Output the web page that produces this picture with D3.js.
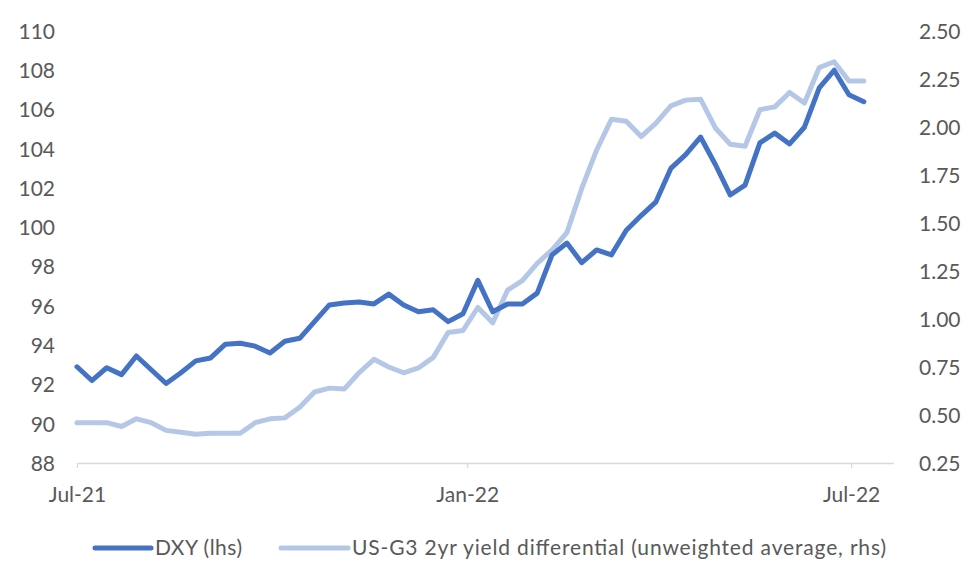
<!DOCTYPE html>
<html>
<head>
<meta charset="utf-8">
<script src="https://cdn.jsdelivr.net/npm/d3@7/dist/d3.min.js"></script>
<style>
  html, body { margin: 0; padding: 0; background: #fff; }
  svg { display: block; }
  text { font-family: Lato, "Open Sans", sans-serif; fill: #595959; }
</style>
</head>
<body>
<svg id="chart" width="980" height="588"></svg>
<script>
// ---- data ----
const dates = [
  "2021-07-01","2021-07-08","2021-07-15","2021-07-22","2021-07-29",
  "2021-08-05","2021-08-12","2021-08-19","2021-08-26",
  "2021-09-02","2021-09-09","2021-09-16","2021-09-23","2021-09-30",
  "2021-10-07","2021-10-14","2021-10-21","2021-10-28",
  "2021-11-04","2021-11-11","2021-11-18","2021-11-25",
  "2021-12-02","2021-12-09","2021-12-16","2021-12-23","2021-12-30",
  "2022-01-06","2022-01-13","2022-01-20","2022-01-27",
  "2022-02-03","2022-02-10","2022-02-17","2022-02-24",
  "2022-03-03","2022-03-10","2022-03-17","2022-03-24","2022-03-31",
  "2022-04-07","2022-04-14","2022-04-21","2022-04-28",
  "2022-05-05","2022-05-12","2022-05-19","2022-05-26",
  "2022-06-02","2022-06-09","2022-06-16","2022-06-23","2022-06-30",
  "2022-07-07"
];
const dxy = [
  92.9, 92.2, 92.85, 92.5, 93.45, 92.75, 92.05, 92.6, 93.2, 93.35,
  94.05, 94.1, 93.95, 93.6, 94.2, 94.35, 95.2, 96.05, 96.15, 96.2,
  96.1, 96.6, 96.05, 95.7, 95.8, 95.2, 95.6, 97.3, 95.7, 96.1,
  96.1, 96.65, 98.6, 99.2, 98.2, 98.85, 98.6, 99.85, 100.6, 101.3,
  103.0, 103.7, 104.6, 103.2, 101.65, 102.15, 104.3, 104.8, 104.25, 105.1,
  107.1, 108.0, 106.75, 106.4
];
const yieldDiff = [
  0.46, 0.46, 0.46, 0.44, 0.48, 0.46, 0.42, 0.41, 0.40, 0.405,
  0.405, 0.405, 0.46, 0.48, 0.485, 0.54, 0.62, 0.64, 0.635, 0.72,
  0.79, 0.75, 0.72, 0.745, 0.80, 0.93, 0.94, 1.06, 0.98, 1.15,
  1.20, 1.29, 1.36, 1.45, 1.68, 1.88, 2.04, 2.03, 1.95, 2.02,
  2.11, 2.14, 2.145, 1.995, 1.91, 1.90, 2.09, 2.105, 2.18, 2.125,
  2.31, 2.34, 2.24, 2.24
];
const leftTicks = [88, 90, 92, 94, 96, 98, 100, 102, 104, 106, 108, 110];
const rightTicks = [0.25, 0.5, 0.75, 1.0, 1.25, 1.5, 1.75, 2.0, 2.25, 2.5];
const xTickDates = ["2021-07-01", "2022-01-01", "2022-07-01"];
const seriesNames = ["DXY (lhs)", "US-G3 2yr yield differential (unweighted average, rhs)"];
const seriesColors = ["#4472C4", "#B4C7E7"];

// ---- chart ----
const parse = d3.timeParse("%Y-%m-%d");
const svg = d3.select("#chart");
svg.append("rect").attr("width", 980).attr("height", 588).attr("fill", "#fff");

const x = d3.scaleTime()
  .domain([parse("2021-07-01"), parse("2022-07-21")])
  .range([77, 893.5]);
const yL = d3.scaleLinear().domain([88, 110]).range([463, 31]);
const yR = d3.scaleLinear().domain([0.25, 2.5]).range([463, 31]);

// x axis
const xAxis = d3.axisBottom(x)
  .tickValues(xTickDates.map(parse))
  .tickFormat(d3.timeFormat("%b-%y"))
  .tickSizeInner(5).tickSizeOuter(0).tickPadding(19);
const gx = svg.append("g").attr("transform", "translate(0,463)").call(xAxis);
gx.select(".domain").attr("stroke", "#d9d9d9").attr("stroke-width", 1.3);
gx.selectAll(".tick line").attr("stroke", "#d9d9d9").attr("stroke-width", 1.3);
gx.selectAll(".tick text").style("font-size", "21px").attr("fill", "#595959");

// left axis
const gl = svg.append("g").attr("transform", "translate(55,0)")
  .call(d3.axisLeft(yL).tickValues(leftTicks).tickFormat(d3.format("d")).tickSize(0).tickPadding(0));
gl.select(".domain").remove();
gl.selectAll(".tick text").style("font-size", "21px").attr("fill", "#595959").attr("dy", "0.35em");

// right axis
const gr = svg.append("g").attr("transform", "translate(919,0)")
  .call(d3.axisRight(yR).tickValues(rightTicks).tickFormat(d3.format(".2f")).tickSize(0).tickPadding(0));
gr.select(".domain").remove();
gr.selectAll(".tick text").style("font-size", "21px").attr("fill", "#595959").attr("dy", "0.35em");

// lines
const pts = dates.map(parse);
const lineR = d3.line().x((d, i) => x(pts[i])).y(d => yR(d));
const lineL = d3.line().x((d, i) => x(pts[i])).y(d => yL(d));

svg.append("path").datum(yieldDiff)
  .attr("d", lineR).attr("fill", "none")
  .attr("stroke", seriesColors[1]).attr("stroke-width", 5)
  .attr("stroke-linejoin", "round").attr("stroke-linecap", "round");
svg.append("path").datum(dxy)
  .attr("d", lineL).attr("fill", "none")
  .attr("stroke", seriesColors[0]).attr("stroke-width", 5)
  .attr("stroke-linejoin", "round").attr("stroke-linecap", "round");

// legend
const legend = svg.append("g");
const legendItems = [
  { name: seriesNames[0], color: seriesColors[0], x1: 95, x2: 151, tx: 155, len: 87 },
  { name: seriesNames[1], color: seriesColors[1], x1: 281, x2: 348, tx: 352, len: 534 }
];
legendItems.forEach(it => {
  legend.append("line").attr("x1", it.x1).attr("x2", it.x2).attr("y1", 548).attr("y2", 548)
    .attr("stroke", it.color).attr("stroke-width", 5).attr("stroke-linecap", "round");
  legend.append("text").attr("x", it.tx).attr("y", 548).attr("dy", "0.35em")
    .attr("textLength", it.len).attr("lengthAdjust", "spacing")
    .style("font-size", "21px").text(it.name);
});
</script>
</body>
</html>
